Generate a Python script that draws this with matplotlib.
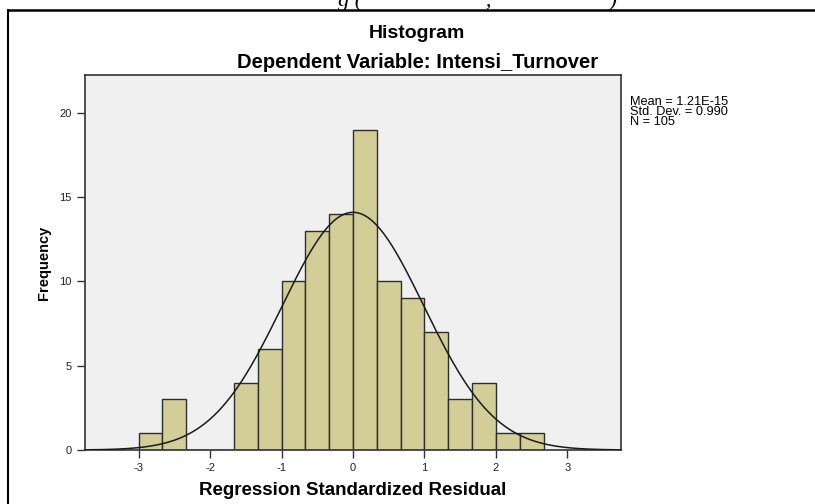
import matplotlib
matplotlib.use("Agg")
import matplotlib.pyplot as plt
import numpy as np

plt.rcParams['font.family'] = ['Liberation Sans', 'DejaVu Sans']
plt.rcParams['axes.unicode_minus'] = False

# bin edges (width 1/3) and counts
bin_edges = np.arange(-9, 9) / 3.0
counts = [1, 3, 0, 0, 4, 6, 10, 13, 14, 19, 10, 9, 7, 3, 4, 1, 1]
mean = 1.21e-15
std = 0.990
n = 105

fig = plt.figure(figsize=(8.15, 5.04), dpi=100)
ax = fig.add_axes([0.1043, 0.1071, 0.6577, 0.7441])

ax.set_facecolor("#f0f0f0")
ax.bar(bin_edges[:-1], counts, width=np.diff(bin_edges), align='edge',
       color="#d3cd98", edgecolor="#2e2e2e", linewidth=1.0, zorder=2)

# normal curve scaled to counts
xs = np.linspace(-3.75, 3.75, 400)
bw = bin_edges[1] - bin_edges[0]
ys = n * bw * np.exp(-0.5 * ((xs - mean) / std) ** 2) / (std * np.sqrt(2 * np.pi))
ax.plot(xs, ys, color="#1a1a1a", linewidth=1.1, zorder=3)

ax.set_xlim(-3.75, 3.75)
ax.set_ylim(0, 22.25)
ax.set_xticks([-3, -2, -1, 0, 1, 2, 3])
ax.set_yticks([0, 5, 10, 15, 20])
ax.tick_params(axis='both', labelsize=8, length=6, width=1, color="#333333",
               labelcolor="#222222", direction='out')
for s in ax.spines.values():
    s.set_color("#333333")
    s.set_linewidth(1.2)

ax.set_xlabel("Regression Standardized Residual", fontsize=13.5, fontweight='bold', labelpad=6)
ax.set_ylabel("Frequency", fontsize=10.5, fontweight='bold', labelpad=6)

fig.text(0.512, 1 - 33 / 504, "Histogram", ha='center', va='center', fontsize=14, fontweight='bold')
fig.text(0.512, 1 - 62 / 504, "Dependent Variable: Intensi_Turnover", ha='center', va='center',
         fontsize=14.5, fontweight='bold')

fig.text(630 / 815, 1 - 96 / 504,
         "Mean = 1.21E-15\nStd. Dev. = 0.990\nN = 105",
         ha='left', va='top', fontsize=9.2, linespacing=0.8)

# surrounding frame of the page
fig.add_artist(plt.Line2D([8 / 815, 8 / 815], [0, 1 - 10 / 504], color='black', linewidth=1.5,
                          transform=fig.transFigure))
fig.add_artist(plt.Line2D([8 / 815, 1], [1 - 10 / 504, 1 - 10 / 504], color='black', linewidth=1.8,
                          transform=fig.transFigure))

# clipped caption from the page above
fig.text(338 / 815, 1 - 6 / 504, "g (                      ,                     )",
         ha='left', va='baseline', fontsize=16, family='Liberation Serif', style='italic')

fig.savefig("out.png", dpi=100)
